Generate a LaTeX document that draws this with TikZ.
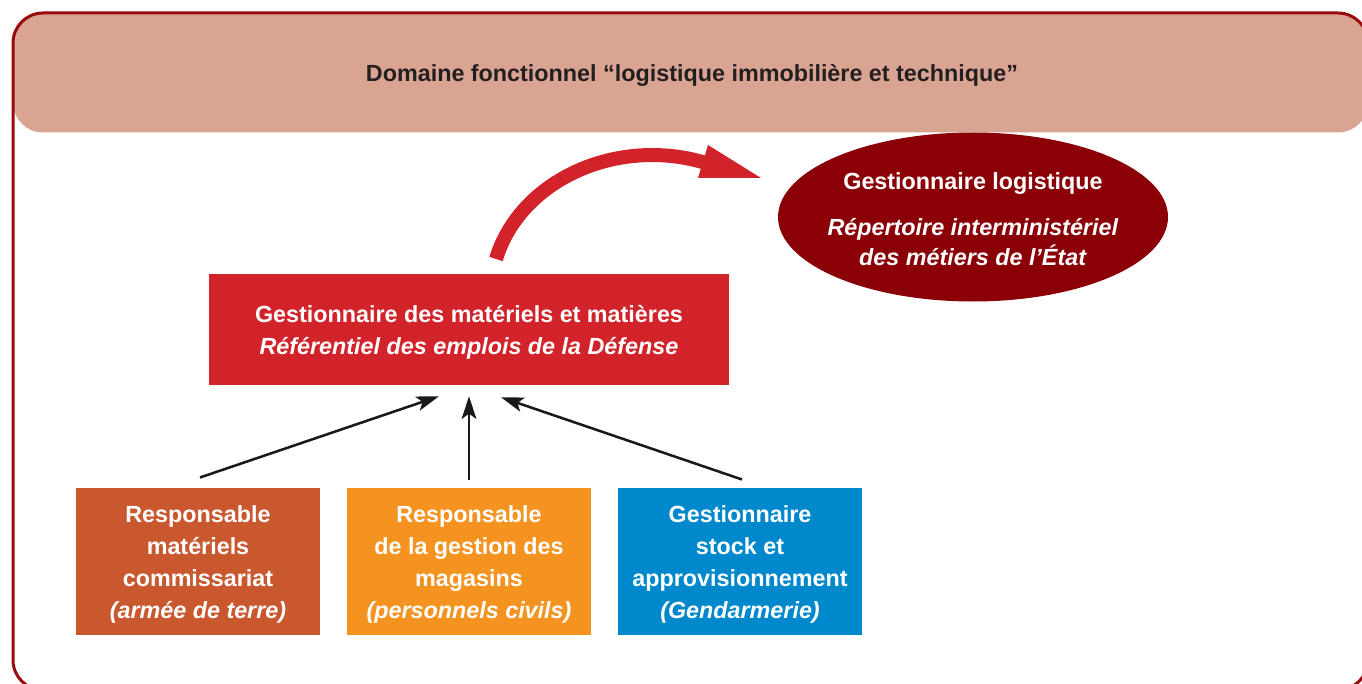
\documentclass[tikz,border=0pt]{standalone}
\usepackage{fontspec}
\setmainfont{Liberation Sans}
\usetikzlibrary{arrows.meta,shapes.geometric}
\definecolor{framered}{RGB}{155,10,15}
\definecolor{hdrfill}{RGB}{218,164,146}
\definecolor{hdrtext}{RGB}{35,31,32}
\definecolor{ellred}{RGB}{139,0,6}
\definecolor{boxred}{RGB}{210,35,42}
\definecolor{boxbrown}{RGB}{201,88,46}
\definecolor{boxorange}{RGB}{244,147,32}
\definecolor{boxblue}{RGB}{0,136,204}
\newcommand{\firststrut}{\rule{0pt}{17.5pt}}
\newcommand{\ellstrut}{\rule{0pt}{16pt}}
\begin{document}
\begin{tikzpicture}[x=0.75pt,y=-0.75pt,
  lbl/.style={font=\bfseries\fontsize{17.5}{24}\selectfont, align=center, text=white, inner sep=0pt},
  boxnode/.style={lbl, rectangle, minimum width=183pt, minimum height=110.6pt},
  conn/.style={draw=black!90, line width=1.9pt, -{Stealth[length=17pt,width=11pt,inset=4pt]}},
  bigshaft/.style={draw=boxred, line width=10.5pt},
  bighead/.style={fill=boxred}
]
\useasboundingbox (0,0) rectangle (1362,684);
% header band and frame
\fill[hdrfill, rounded corners=22.5pt] (13,13) rectangle (1368,132.5);
\draw[framered, line width=2.25pt, rounded corners=22.5pt] (13,13) rectangle (1368,690);
\node[font=\bfseries\fontsize{17.5}{21}\selectfont, text=hdrtext, anchor=base, inner sep=0pt] (hdr) at (692,82)
  {Domaine fonctionnel “logistique immobilière et technique”};

% ellipse
\node[lbl, ellipse, fill=ellred, inner xsep=-12pt, minimum width=292.5pt, minimum height=126.75pt,
      font=\bfseries\fontsize{17.5}{22.5}\selectfont] (ell) at (973,217)
  {\ellstrut Gestionnaire logistique\\[12pt]\textit{Répertoire interministériel}\\\textit{des métiers de l’État}};

% central red box
\node[boxnode, fill=boxred, minimum width=390pt, minimum height=83.25pt] (red) at (469,329.5)
  {\firststrut Gestionnaire des matériels et matières\\\textit{Référentiel des emplois de la Défense}};

% bottom boxes
\node[boxnode, fill=boxbrown] (b1) at (198,561.5)
  {\firststrut Responsable\\matériels\\commissariat\\\textit{(armée de terre)}};
\node[boxnode, fill=boxorange] (b2) at (469,561.5)
  {\firststrut Responsable\\de la gestion des\\magasins\\\textit{(personnels civils)}};
\node[boxnode, fill=boxblue] (b3) at (740,561.5)
  {\firststrut Gestionnaire\\stock et\\approvisionnement\\\textit{(Gendarmerie)}};

% connectors
\draw[conn] ([shift={(2,-10)}]b1.north) -- ([shift={(-30,11)}]red.south);
\draw[conn] ([shift={(0,-8)}]b2.north) -- ([shift={(0,11)}]red.south);
\draw[conn] ([shift={(2,-8)}]b3.north) -- ([shift={(32,12)}]red.south);

% big curved arrow (red box towards ellipse)
\coordinate (cs) at (496,259);
\coordinate (cb) at (706,163);
\coordinate (ht) at (761,178);
\draw[bigshaft] (cs) .. controls (520,180) and (617,136) .. (cb);
\fill[bighead] (708,145) -- (ht) -- (698,178) -- cycle;
\end{tikzpicture}
\end{document}
